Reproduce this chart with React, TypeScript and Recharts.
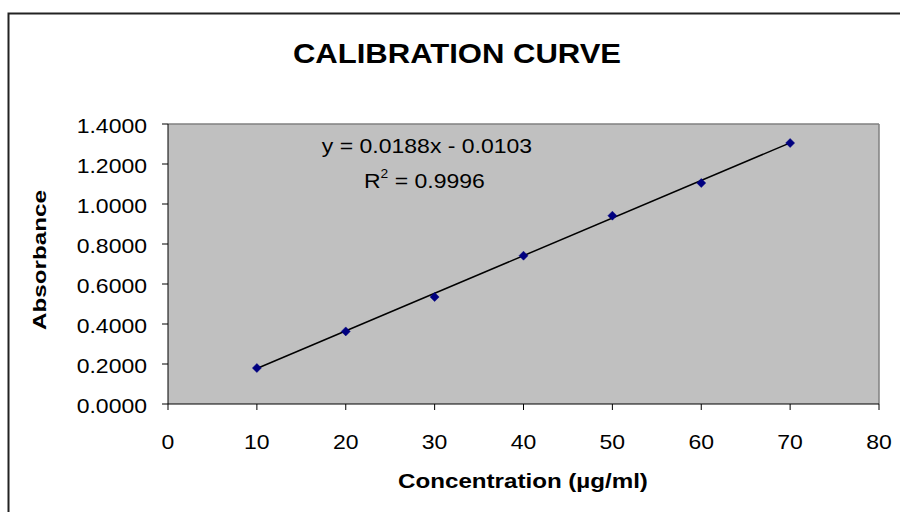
import {
  ScatterChart,
  Scatter,
  XAxis,
  YAxis,
  CartesianGrid,
  ReferenceLine,
} from "recharts";

// concentration (µg/ml) vs measured absorbance
const concentrations = [10, 20, 30, 40, 50, 60, 70];
const absorbances = [0.18, 0.363, 0.535, 0.7415, 0.9415, 1.105, 1.305];

// trendline ends, from y = 0.0188x - 0.0103
const trendX = [10, 70];
const trendY = [0.1777, 1.3057];

const xTicks = [0, 10, 20, 30, 40, 50, 60, 70, 80];
const yTicks = [0, 0.2, 0.4, 0.6, 0.8, 1.0, 1.2, 1.4];

const points = concentrations.map((x, i) => ({ x, y: absorbances[i] }));
const trend = trendX.map((x, i) => ({ x, y: trendY[i] }));

const FONT = "'Liberation Sans', Arial, sans-serif";
const SX = 1.15; // the original picture is a little wider than tall

const YTick = (props: any) => {
  const { x, y, payload } = props;
  return (
    <g transform={`translate(${x},${y})`}>
      <text
        transform={`scale(${SX},1)`}
        textAnchor="end"
        dy={9}
        fontSize={20}
        fontFamily={FONT}
        fill="#000"
      >
        {Number(payload.value).toFixed(4)}
      </text>
    </g>
  );
};

const XTick = (props: any) => {
  const { x, y, payload } = props;
  return (
    <g transform={`translate(${x},${y})`}>
      <text
        transform={`scale(${SX},1)`}
        textAnchor="middle"
        dy={37}
        fontSize={20}
        fontFamily={FONT}
        fill="#000"
      >
        {payload.value}
      </text>
    </g>
  );
};

const Diamond = (props: any) => {
  const { cx, cy } = props;
  return (
    <polygon
      points={`${cx},${cy - 4.5} ${cx + 4.5},${cy} ${cx},${cy + 4.5} ${cx - 4.5},${cy}`}
      fill="#000080"
      stroke="#000080"
      strokeWidth={0.5}
    />
  );
};

const NoDot = () => <g />;

export default function App() {
  return (
    <div style={{ position: "absolute", left: 0, top: 0, width: 900, height: 512, background: "#fff" }}>
      <ScatterChart
        width={900}
        height={512}
        margin={{ top: 124, right: 21, bottom: 48, left: 68 }}
      >
        <CartesianGrid fill="#C0C0C0" horizontal={false} vertical={false} />
        <ReferenceLine y={1.4} stroke="#808080" strokeWidth={1.5} />
        <ReferenceLine x={80} stroke="#808080" strokeWidth={1.5} />
        <XAxis
          type="number"
          dataKey="x"
          domain={[0, 80]}
          ticks={xTicks}
          interval={0}
          height={60}
          tickSize={6}
          tickMargin={2}
          stroke="#000"
          tick={<XTick />}
        />
        <YAxis
          type="number"
          dataKey="y"
          domain={[0, 1.4]}
          ticks={yTicks}
          interval={0}
          width={100}
          tickSize={6}
          tickMargin={15}
          stroke="#000"
          tick={<YTick />}
        />
        <Scatter
          data={trend}
          line={{ stroke: "#000", strokeWidth: 1.5 }}
          shape={<NoDot />}
          isAnimationActive={false}
        />
        <Scatter data={points} shape={<Diamond />} isAnimationActive={false} />
      </ScatterChart>

      <svg
        width={900}
        height={512}
        style={{ position: "absolute", left: 0, top: 0, pointerEvents: "none" }}
        fontFamily={FONT}
      >
        <path d="M8.5,512 L8.5,13.5 L900,13.5" fill="none" stroke="#222" strokeWidth={2} />
        <g transform="translate(457,63)">
          <text transform={`scale(${SX},1)`} textAnchor="middle" fontSize={27} fontWeight="bold" fill="#000">
            CALIBRATION CURVE
          </text>
        </g>
        <g transform="translate(427,153)">
          <text transform={`scale(${SX},1)`} textAnchor="middle" fontSize={20} fill="#000">
            y = 0.0188x - 0.0103
          </text>
        </g>
        <g transform="translate(364,188)">
          <text transform={`scale(${SX},1)`} fontSize={20} fill="#000">
            R<tspan fontSize={12} dy={-10}>2</tspan>
            <tspan dy={10}> = 0.9996</tspan>
          </text>
        </g>
        <g transform="translate(46,260) rotate(-90)">
          <text
            textAnchor="middle"
            fontSize={18}
            fontWeight="bold"
            fill="#000"
            textLength={140}
            lengthAdjust="spacingAndGlyphs"
          >
            Absorbance
          </text>
        </g>
        <g transform="translate(523,488)">
          <text transform={`scale(${SX},1)`} textAnchor="middle" fontSize={21} fontWeight="bold" fill="#000">
            Concentration (µg/ml)
          </text>
        </g>
      </svg>
    </div>
  );
}
